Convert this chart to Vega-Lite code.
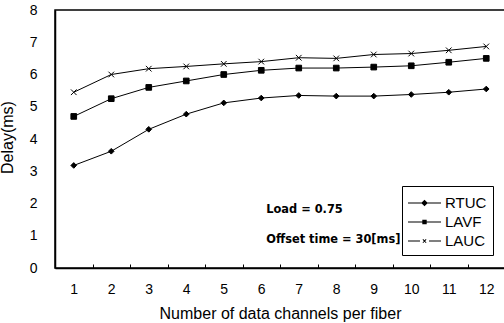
{
  "$schema": "https://vega.github.io/schema/vega-lite/v6.json",
  "width": 450,
  "height": 258,
  "autosize": "none",
  "padding": {"left": 55, "top": 10, "right": 0, "bottom": 55},
  "background": "white",
  "config": {
    "view": {"stroke": "black", "strokeWidth": 1.5},
    "font": "Liberation Sans",
    "axis": {"labelFont": "Liberation Sans", "titleFont": "Liberation Sans", "labelColor": "black", "titleColor": "black", "titleFontWeight": "normal", "grid": false, "domainColor": "black", "domainWidth": 1.5, "tickColor": "black"}
  },
  "datasets": {
    "series": [
      {"n": 1, "s": "RTUC", "d": 3.18}, {"n": 2, "s": "RTUC", "d": 3.62}, {"n": 3, "s": "RTUC", "d": 4.3}, {"n": 4, "s": "RTUC", "d": 4.77},
      {"n": 5, "s": "RTUC", "d": 5.12}, {"n": 6, "s": "RTUC", "d": 5.27}, {"n": 7, "s": "RTUC", "d": 5.35}, {"n": 8, "s": "RTUC", "d": 5.33},
      {"n": 9, "s": "RTUC", "d": 5.33}, {"n": 10, "s": "RTUC", "d": 5.38}, {"n": 11, "s": "RTUC", "d": 5.45}, {"n": 12, "s": "RTUC", "d": 5.55},
      {"n": 1, "s": "LAVF", "d": 4.7}, {"n": 2, "s": "LAVF", "d": 5.25}, {"n": 3, "s": "LAVF", "d": 5.6}, {"n": 4, "s": "LAVF", "d": 5.8},
      {"n": 5, "s": "LAVF", "d": 6.0}, {"n": 6, "s": "LAVF", "d": 6.13}, {"n": 7, "s": "LAVF", "d": 6.2}, {"n": 8, "s": "LAVF", "d": 6.2},
      {"n": 9, "s": "LAVF", "d": 6.23}, {"n": 10, "s": "LAVF", "d": 6.27}, {"n": 11, "s": "LAVF", "d": 6.38}, {"n": 12, "s": "LAVF", "d": 6.5},
      {"n": 1, "s": "LAUC", "d": 5.45}, {"n": 2, "s": "LAUC", "d": 6.0}, {"n": 3, "s": "LAUC", "d": 6.18}, {"n": 4, "s": "LAUC", "d": 6.25},
      {"n": 5, "s": "LAUC", "d": 6.33}, {"n": 6, "s": "LAUC", "d": 6.4}, {"n": 7, "s": "LAUC", "d": 6.52}, {"n": 8, "s": "LAUC", "d": 6.5},
      {"n": 9, "s": "LAUC", "d": 6.62}, {"n": 10, "s": "LAUC", "d": 6.65}, {"n": 11, "s": "LAUC", "d": 6.75}, {"n": 12, "s": "LAUC", "d": 6.87}
    ],
    "notes": [
      {"n": 6, "d": 1.8, "t": "Load = 0.75"},
      {"n": 6, "d": 0.87, "t": "Offset time = 30[ms]"}
    ]
  },
  "encoding": {
    "x": {
      "field": "n", "type": "quantitative",
      "scale": {"domain": [0.5, 12.5], "nice": false, "zero": false},
      "axis": {
        "title": "Number of data channels per fiber",
        "titleFontSize": 16, "titlePadding": 9,
        "values": [1, 1.5, 2, 2.5, 3, 3.5, 4, 4.5, 5, 5.5, 6, 6.5, 7, 7.5, 8, 8.5, 9, 9.5, 10, 10.5, 11, 11.5, 12],
        "labelExpr": "datum.value % 1 === 0 ? format(datum.value, 'd') : ''",
        "labelFontSize": 14, "labelPadding": 18.5, "labelOverlap": false, "labelFlush": false,
        "tickSize": -4,
        "tickOpacity": {"condition": {"test": "datum.value % 1 === 0", "value": 0}, "value": 1}
      }
    },
    "y": {
      "field": "d", "type": "quantitative",
      "scale": {"domain": [0, 8], "nice": false},
      "axis": {"title": "Delay(ms)", "titleFontSize": 16, "values": [0, 1, 2, 3, 4, 5, 6, 7, 8], "labelFontSize": 14, "ticks": false, "labelPadding": 18, "labelOverlap": false, "labelFlush": false, "titleX": -48, "titleY": 127, "titleAngle": -90, "titleBaseline": "middle", "titleAlign": "center"}
    }
  },
  "layer": [
    {
      "data": {"name": "series"},
      "mark": {"type": "line", "color": "black", "strokeWidth": 1},
      "encoding": {"detail": {"field": "s"}}
    },
    {
      "data": {"name": "series"},
      "mark": {"type": "point", "filled": true, "color": "black", "stroke": "black", "strokeWidth": 1, "opacity": 1},
      "encoding": {
        "shape": {
          "field": "s", "type": "nominal",
          "scale": {"domain": ["RTUC", "LAVF", "LAUC"], "range": ["diamond", "square", "M-1,-1L1,1M-1,1L1,-1"]},
          "legend": null
        },
        "size": {"value": 32}
      }
    },
    {
      "data": {"name": "series"},
      "mark": {"type": "point", "filled": true, "color": "black", "opacity": 0},
      "encoding": {
        "shape": {
          "field": "s", "type": "nominal",
          "scale": {"domain": ["RTUC", "LAVF", "LAUC"], "range": [
            "M-1,-0.045H2V0.045H-1Z M0.5,-0.3L0.8,0L0.5,0.3L0.2,0Z",
            "M-1,-0.045H2V0.045H-1Z M0.3,-0.2H0.7V0.2H0.3Z",
            "M-1,-0.045H0.09V0.045H-1Z M0.91,-0.045H2V0.045H0.91Z M0.32,-0.12L0.62,0.18L0.68,0.12L0.38,-0.18Z M0.32,0.12L0.38,0.18L0.68,-0.12L0.62,-0.18Z"
          ]},
          "legend": {
            "title": null, "orient": "none", "legendX": 347, "legendY": 176,
            "strokeColor": "black", "padding": 6, "fillColor": "white",
            "labelFontSize": 15, "labelFont": "Liberation Sans", "labelColor": "black", "labelOffset": 15,
            "symbolSize": 484, "symbolStrokeWidth": 0, "symbolOpacity": 1,
            "symbolFillColor": "black", "symbolStrokeColor": "black", "rowPadding": 0
          }
        },
        "size": {"value": 484}
      }
    },
    {
      "data": {"name": "notes"},
      "mark": {"type": "text", "align": "left", "baseline": "middle", "dx": 5, "font": "DejaVu Sans", "fontWeight": "bold", "fontSize": 11.4, "color": "black"},
      "encoding": {"text": {"field": "t"}}
    }
  ],
  "resolve": {"scale": {"shape": "independent"}, "legend": {"shape": "independent"}}
}
